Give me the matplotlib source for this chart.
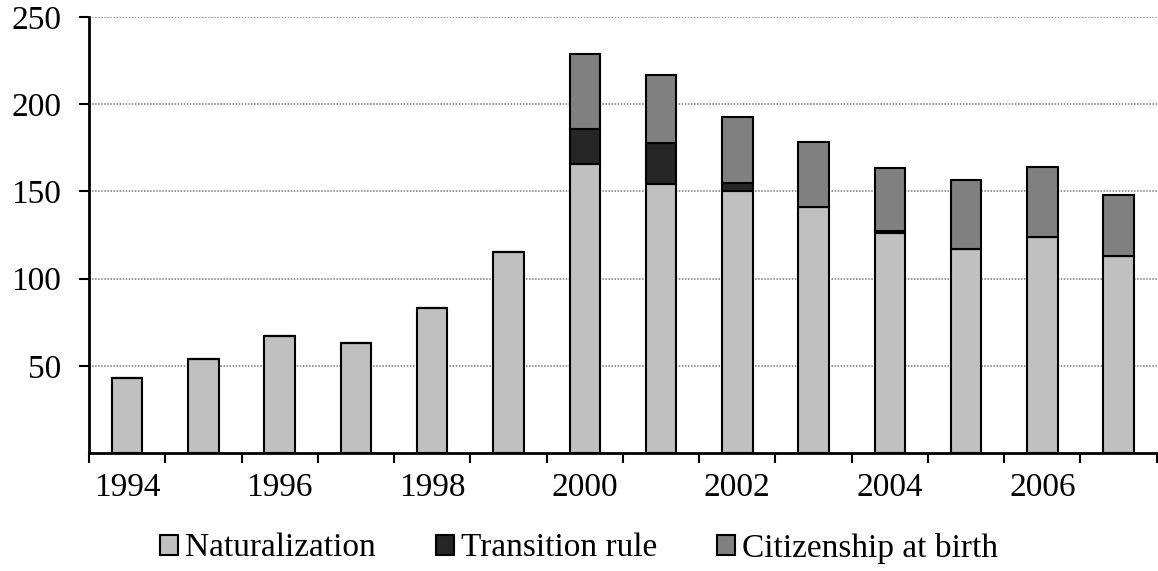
#!/usr/bin/env python3

import matplotlib
matplotlib.use("Agg")
import matplotlib.pyplot as plt
import numpy as np

matplotlib.rcParams['font.family'] = ['Liberation Serif', 'DejaVu Serif']

years = ['1994', '1995', '1996', '1997', '1998', '1999', '2000',
         '2001', '2002', '2003', '2004', '2005', '2006', '2007']
naturalization = [43, 54, 67, 63, 83, 115, 166, 154, 150, 141, 126, 117, 124, 113]
transition = [0, 0, 0, 0, 0, 0, 20, 24, 5, 0, 1.5, 0, 0, 0]
citizenship_birth = [0, 0, 0, 0, 0, 0, 42.6, 39, 37.5, 37.5, 36.2, 39.6, 40, 35.2]

# Grey palette
light_gray = "#c0c0c0"
dark_gray = "#262626"
mid_gray = "#808080"

x = np.arange(len(years))
nat = np.array(naturalization)
trans = np.array(transition)
cit = np.array(citizenship_birth)
width = 0.4

fig = plt.figure(figsize=(11.58, 5.71), dpi=100)
ax = fig.add_axes([0.0769, 0.2067, 0.922, 0.7633])

edge = dict(edgecolor='black', linewidth=1.5, zorder=3)
ax.bar(x, nat, width, color=light_gray, label='Naturalization', **edge)
ax.bar(x, trans, width, bottom=nat, color=dark_gray, label='Transition rule', **edge)
ax.bar(x, cit, width, bottom=nat + trans, color=mid_gray,
       label='Citizenship at birth', **edge)

ax.set_xlim(-0.5, len(years) - 0.5)
ax.set_ylim(0, 250)
ax.set_yticks([50, 100, 150, 200, 250])
ax.yaxis.grid(True, color='#7a7a7a', linestyle=(0, (1, 1)), linewidth=1.1)
ax.set_axisbelow(True)

# Boundary ticks between categories, labels on every other year
ax.set_xticks(np.arange(-0.5, len(years), 1.0))
ax.set_xticklabels([])
ax.set_xticks(x[::2], minor=True)
ax.set_xticklabels(years[::2], minor=True)
ax.tick_params(axis='x', which='major', direction='out', length=7, width=1.5)
ax.tick_params(axis='x', which='minor', length=0, pad=14, labelsize=24)
ax.tick_params(axis='y', direction='out', length=7, width=1.5, pad=13, labelsize=24)

ax.spines['right'].set_visible(False)
ax.spines['top'].set_visible(False)
ax.spines['left'].set_linewidth(2)
ax.spines['bottom'].set_linewidth(2)

handles, labels = ax.get_legend_handles_labels()
fig.legend(handles, labels, loc='center', bbox_to_anchor=(0.5, 1 - 548 / 571),
           ncol=3, frameon=False, fontsize=24, handlelength=0.55,
           handleheight=0.55, handletextpad=0.2, columnspacing=1.8)

fig.savefig('out.png', dpi=100)
